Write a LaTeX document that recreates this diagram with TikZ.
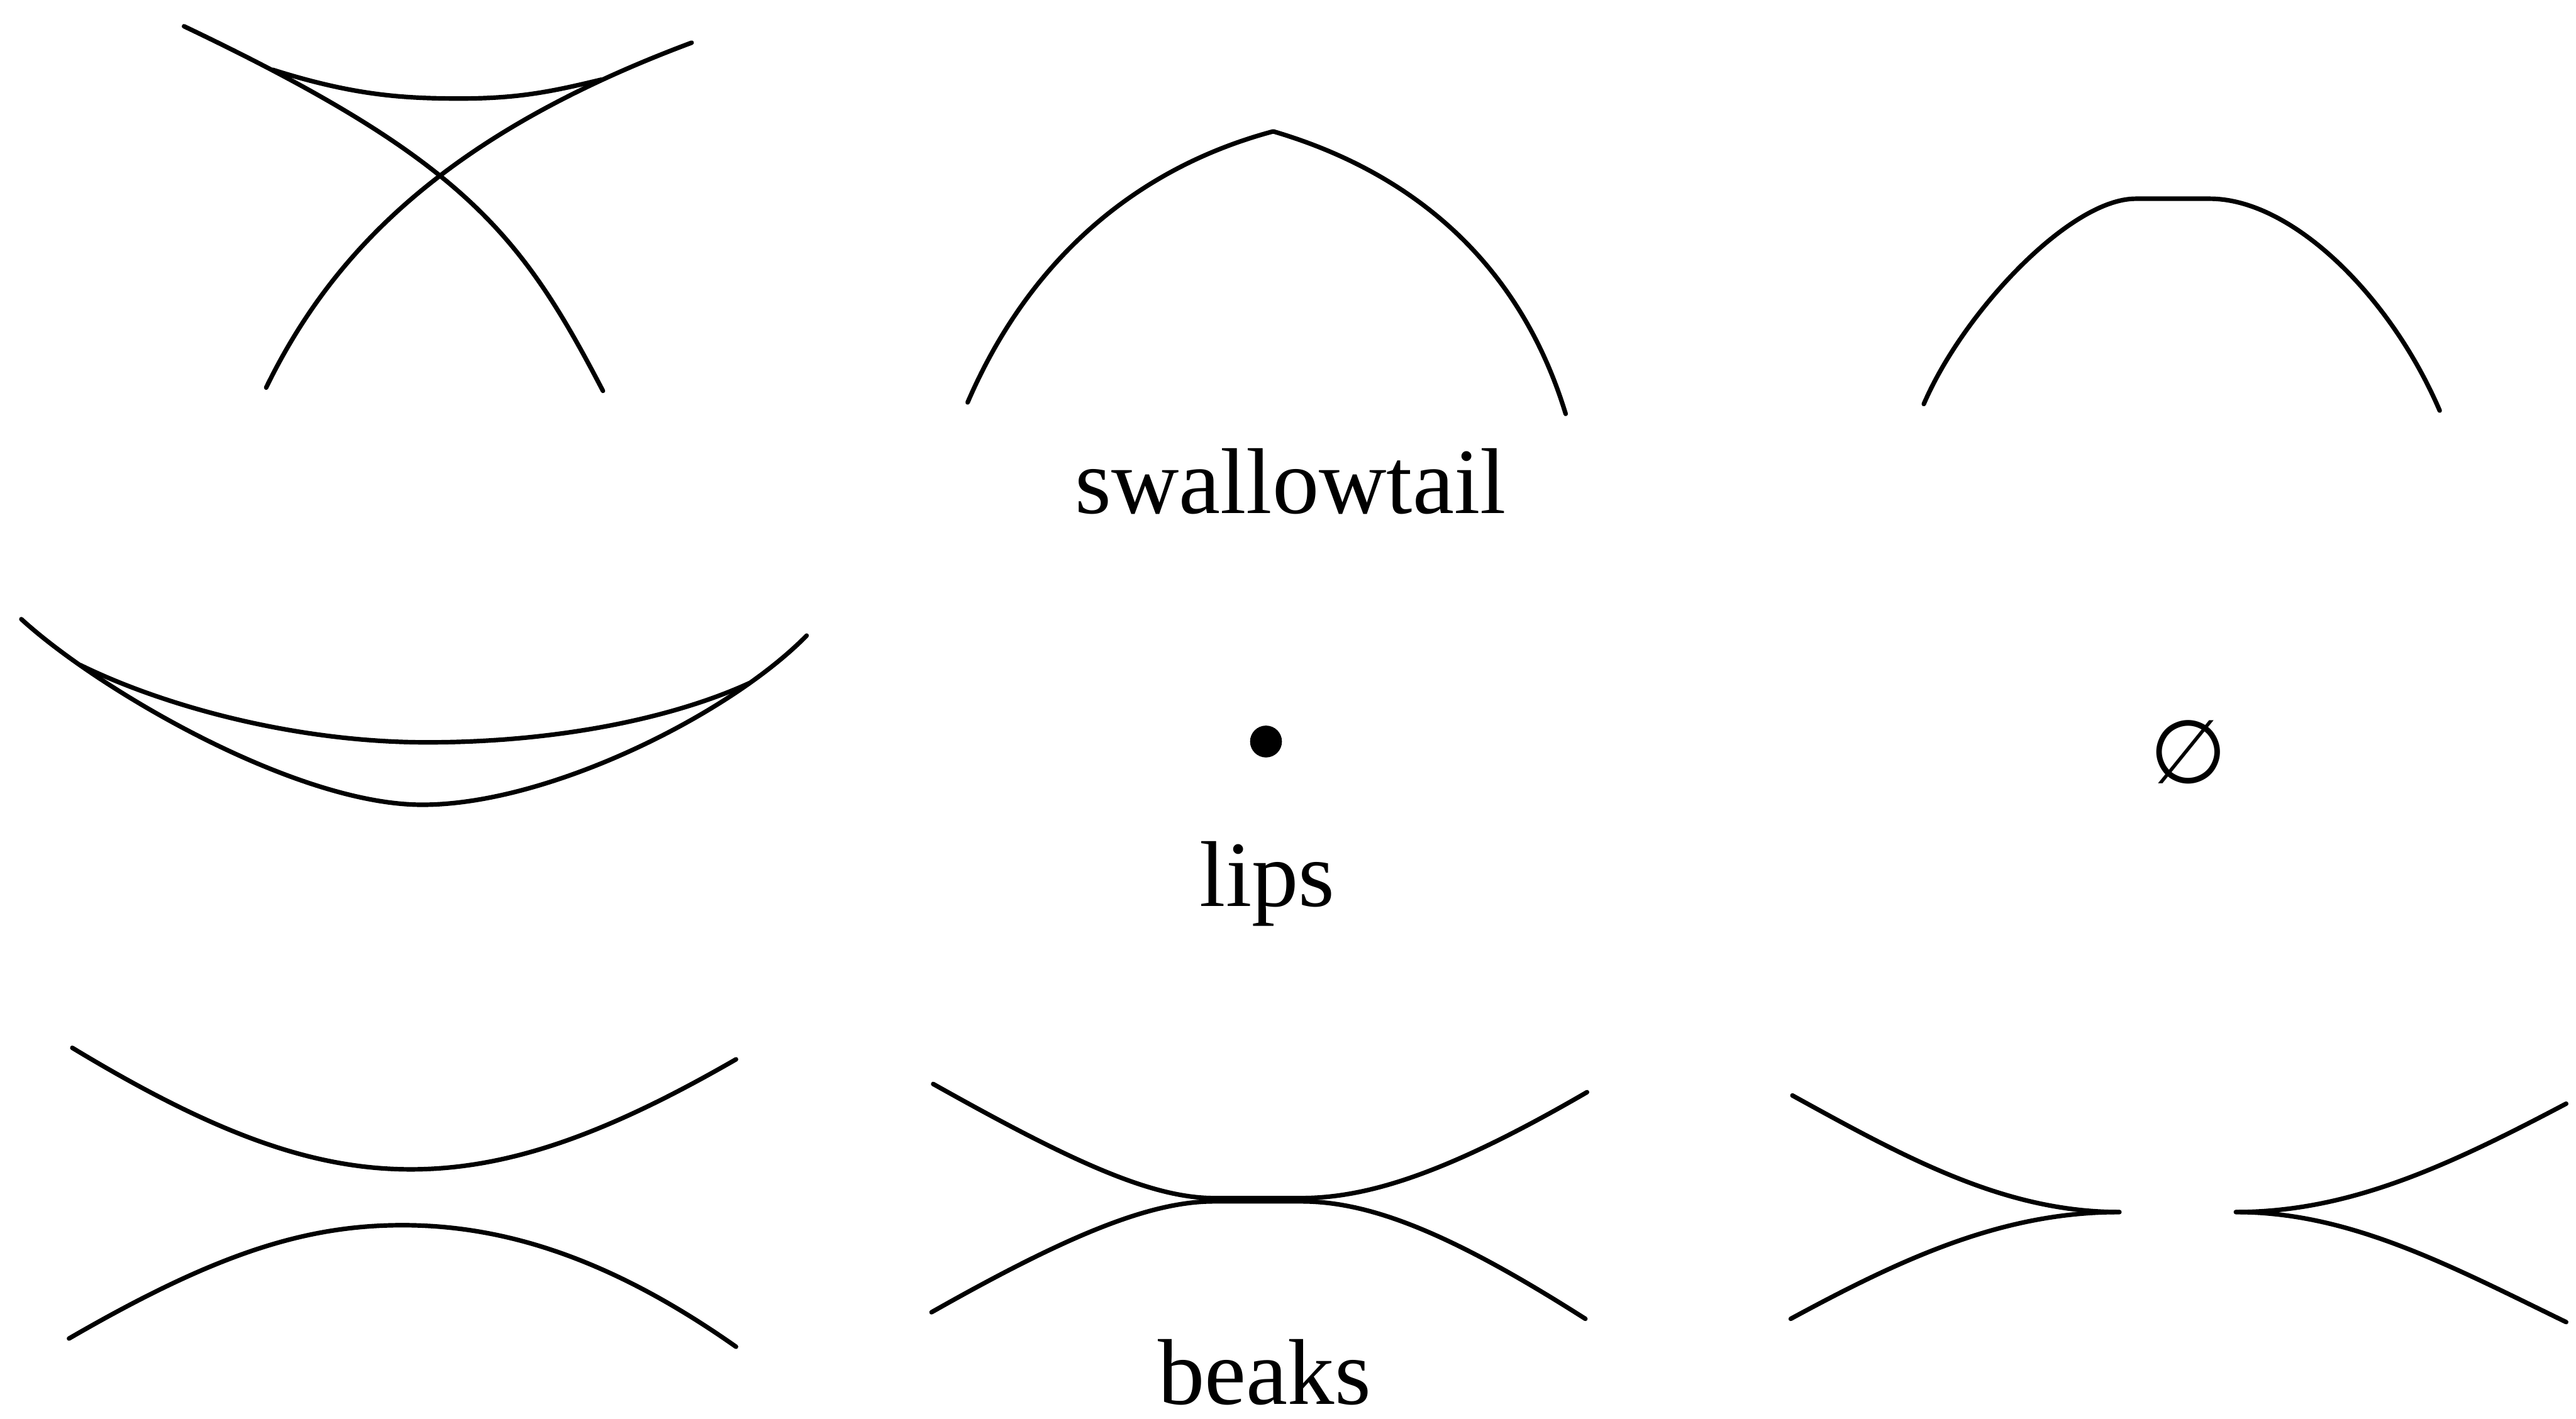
\documentclass[tikz,border=0pt]{standalone}
\usepackage{fontspec}
\setmainfont{Liberation Serif}
\newfontfamily\symfont{DejaVu Sans}
\begin{document}
\begin{tikzpicture}[
  x=0.029394cm, y=-0.029394cm,
  curve/.style={line width=2.3pt, line cap=round, line join=round},
  lbl/.style={anchor=base, inner sep=0pt, font=\fontsize{47.6}{50}\selectfont}
]
  \useasboundingbox (0,0) rectangle (1568,864);

  \draw[curve] (112,16) .. controls (282,97) and (317,142) .. (367,238);
  \draw[curve] (421,26) .. controls (271,82) and (202,154) .. (162,236);
  \draw[curve] (166,42.5) .. controls (215,58) and (245,60) .. (280,60) .. controls (315,60) and (335,56) .. (366,48.5);
  \draw[curve] (589,245) .. controls (630,150) and (700,100) .. (775,80) .. controls (860,105) and (925,160) .. (953,252);
  \draw[curve] (1171,246) .. controls (1195,190) and (1260,121) .. (1300,121) -- (1345,121) .. controls (1395,121) and (1455,180) .. (1485,250);
  \node[lbl] (swallowtail) at (785.5,312.4) {swallowtail};

  \draw[curve] (13,377) .. controls (60,420) and (180,490) .. (257,490) .. controls (334,490) and (444,435) .. (491,387);
  \draw[curve] (49,405) .. controls (100,430) and (180,452) .. (260,452) .. controls (340,452) and (410,437) .. (456,416);
  \fill (770.6,451.5) circle (9.7);
  \node[inner sep=0pt, font=\symfont\fontsize{45}{45}\selectfont] (empty) at (1332,458) {∅};
  \node[lbl] (lips) at (771.5,551.7) {lips};

  \draw[curve] (44,638) .. controls (130,690) and (190,712) .. (250,712) .. controls (310,712) and (370,690) .. (448,645);
  \draw[curve] (42,815) .. controls (130,764) and (185,746) .. (245,746) .. controls (305,746) and (370,765) .. (448,820);
  \draw[curve] (568,660) .. controls (650,706) and (700,729.5) .. (739,729.5) -- (792,729.5) .. controls (835,729.5) and (885,712) .. (966,665);
  \draw[curve] (567,799) .. controls (650,752) and (700,731.5) .. (739,731.5) -- (792,731.5) .. controls (835,731.5) and (885,752) .. (965,803);
  \draw[curve] (1091,667) .. controls (1160,705) and (1220,738) .. (1290,738);
  \draw[curve] (1090,803) .. controls (1160,765) and (1220,738) .. (1290,738);
  \draw[curve] (1361,738) .. controls (1430,738) and (1490,710) .. (1562,672);
  \draw[curve] (1361,738) .. controls (1430,738) and (1490,770) .. (1562,805);
  \node[lbl] (beaks) at (769.7,855) {beaks};
\end{tikzpicture}
\end{document}
